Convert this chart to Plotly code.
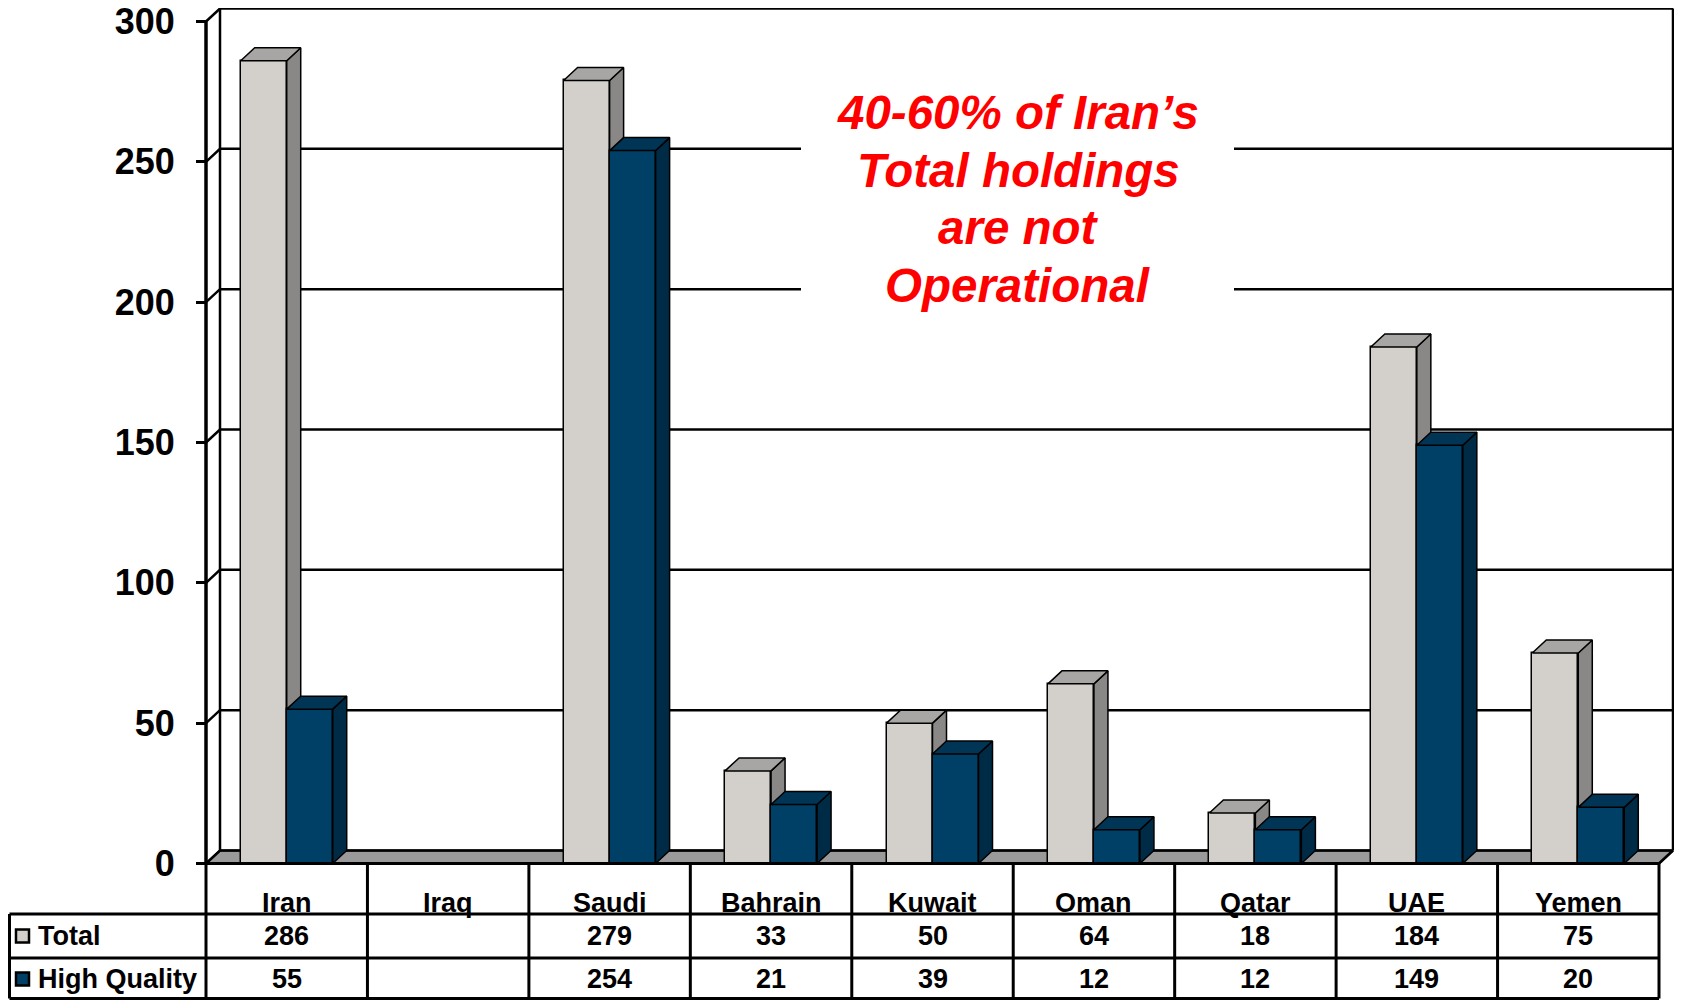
import plotly.graph_objects as go

# ---------------- data ----------------
countries = ["Iran", "Iraq", "Saudi", "Bahrain", "Kuwait", "Oman", "Qatar", "UAE", "Yemen"]
total = [286, None, 279, 33, 50, 64, 18, 184, 75]
high_quality = [55, None, 254, 21, 39, 12, 12, 149, 20]
series_names = ["Total", "High Quality"]
y_ticks = [0, 50, 100, 150, 200, 250, 300]
note_lines = ["40-60% of Iran’s", "Total holdings", "are not", "Operational"]

# ---------------- layout constants (screen pixels -> axis units) ----------------
PAGE_W, PAGE_H = 1682, 1000
BODY = 8                          # default page margin around the plot div
W, H = PAGE_W - BODY, PAGE_H - BODY
PX_CAT = (1659 - 206) / 9.0      # pixels per category
X_LEFT_PX = 206                  # front plane left edge
Y0_PX = 863.5                    # value 0
PX_PER_UNIT = (863.5 - 21.5) / 300.0


def xd(px):
    return -0.5 + (px - X_LEFT_PX) / PX_CAT


def yd(py):
    return (Y0_PX - py) / PX_PER_UNIT


DX = 14 / PX_CAT
DY = 13 / PX_PER_UNIT
BW = 46 / PX_CAT
N = len(countries)
FONT = "Liberation Sans, Arial, sans-serif"

styles = {
    "Total": dict(front="#D3D0CC", side="#8A8886", top="#A8A6A4", offset=-BW),
    "High Quality": dict(front="#003F66", side="#002B46", top="#003556", offset=0.0),
}

fig = go.Figure()

# ---------------- walls / floor / grid ----------------
left, right = -0.5, N - 0.5
fig.add_trace(go.Scatter(
    x=[left, right, right + DX, left + DX, left],
    y=[0, 0, DY, DY, 0],
    mode="lines", fill="toself", fillcolor="#9A9A9A",
    line=dict(color="black", width=2), hoverinfo="skip", showlegend=False, zorder=0))

gx, gy = [], []
for t in y_ticks:
    gx += [left, left + DX, right + DX, None]
    gy += [t, t + DY, t + DY, None]
# back wall left & right edges, floor right edge
gx += [left + DX, left + DX, None, right + DX, right + DX, None, right, right + DX, None]
gy += [DY, y_ticks[-1] + DY, None, DY, y_ticks[-1] + DY, None, 0, DY, None]
fig.add_trace(go.Scatter(x=gx, y=gy, mode="lines", line=dict(color="black", width=2.5),
                         hoverinfo="skip", showlegend=False, zorder=0))
# front axis line
fig.add_trace(go.Scatter(x=[left, left], y=[0, y_ticks[-1]], mode="lines",
                         line=dict(color="black", width=3.5),
                         hoverinfo="skip", showlegend=False, zorder=0))

# ---------------- 3D bars ----------------
for z, (name, values) in enumerate(zip(series_names, [total, high_quality]), start=1):
    st = styles[name]
    sx, sy, tx, ty = [], [], [], []
    for i, v in enumerate(values):
        if v is None:
            continue
        x0 = i + st["offset"]
        x1 = x0 + BW
        sx += [x1, x1, x1 + DX, x1 + DX, x1, None]
        sy += [0, v, v + DY, DY, 0, None]
        tx += [x0, x0 + DX, x1 + DX, x1, x0, None]
        ty += [v, v + DY, v + DY, v, v, None]
    fig.add_trace(go.Bar(
        x=list(range(N)), y=values, width=BW, offset=st["offset"], name=name,
        marker=dict(color=st["front"], line=dict(color="black", width=1.5)),
        showlegend=False, zorder=z))
    fig.add_trace(go.Scatter(x=sx, y=sy, mode="lines", fill="toself", fillcolor=st["side"],
                             line=dict(color="black", width=1.5), hoverinfo="skip",
                             showlegend=False, zorder=z))
    fig.add_trace(go.Scatter(x=tx, y=ty, mode="lines", fill="toself", fillcolor=st["top"],
                             line=dict(color="black", width=1.5), hoverinfo="skip",
                             showlegend=False, zorder=z))

# ---------------- data table ----------------
row_top = [yd(914), yd(958)]
bottom = yd(998.5)
leg_left = xd(9.5)
tx, ty = [], []
tx += [left, right, None]
ty += [0, 0, None]
for r in row_top:
    tx += [leg_left, right, None]
    ty += [r, r, None]
tx += [leg_left, right, None]
ty += [bottom, bottom, None]
for k in range(N + 1):
    tx += [k - 0.5, k - 0.5, None]
    ty += [0, bottom, None]
tx += [leg_left, leg_left, None]
ty += [row_top[0], bottom, None]
fig.add_trace(go.Scatter(x=tx, y=ty, mode="lines", line=dict(color="black", width=3),
                         hoverinfo="skip", showlegend=False, zorder=5))

# legend swatches
row_centers = [yd(936), yd(979)]
fig.add_trace(go.Scatter(
    x=[xd(22.5)] * 2, y=row_centers, mode="markers",
    marker=dict(symbol="square", size=13,
                color=[styles[s]["front"] for s in series_names],
                line=dict(color="black", width=2.5)),
    hoverinfo="skip", showlegend=False, zorder=5))

annotations = []
tfont = dict(family=FONT, size=27, color="black", weight="bold")
for i, c in enumerate(countries):
    annotations.append(dict(x=i, y=yd(903), text=c, showarrow=False, font=tfont,
                            xanchor="center", yanchor="middle"))
for rc, name, values in zip(row_centers, series_names, [total, high_quality]):
    annotations.append(dict(x=xd(36), y=rc, text=name, showarrow=False, font=tfont,
                            xanchor="left", yanchor="middle"))
    for i, v in enumerate(values):
        if v is None:
            continue
        annotations.append(dict(x=i, y=rc, text=str(v), showarrow=False, font=tfont,
                                xanchor="center", yanchor="middle"))

# red note
note_font = dict(family=FONT, size=47.5, color="#FF0000", weight="bold", style="italic")
for k, line in enumerate(note_lines):
    annotations.append(dict(x=xd(1018), y=yd(112.5 + 57.6 * k), text=line, showarrow=False,
                            font=note_font, xanchor="center", yanchor="middle"))

fig.update_layout(
    width=W, height=H,
    margin=dict(l=0, r=0, t=0, b=0, autoexpand=False),
    paper_bgcolor="white", plot_bgcolor="white",
    barmode="overlay", bargap=0,
    showlegend=False,
    annotations=annotations,
    shapes=[dict(type="rect", xref="x", yref="y", x0=xd(801), x1=xd(1234),
                 y0=yd(300), y1=yd(130), fillcolor="white", line=dict(width=0),
                 layer="above")],
    xaxis=dict(range=[xd(BODY), xd(PAGE_W)], visible=False, fixedrange=True,
               automargin=False),
    yaxis=dict(range=[yd(PAGE_H), yd(BODY)], anchor="free", position=(207 - BODY) / W,
               tickvals=y_ticks, ticktext=[str(t) for t in y_ticks],
               ticks="outside", ticklen=11, tickwidth=3, tickcolor="black",
               tickfont=dict(family=FONT, size=36, color="black", weight="bold"),
               ticklabelstandoff=14, ticklabeloverflow="allow", automargin=False,
               showgrid=False, zeroline=False, showline=False, fixedrange=True),
)

fig.write_html("out.html", config={"displayModeBar": False})
